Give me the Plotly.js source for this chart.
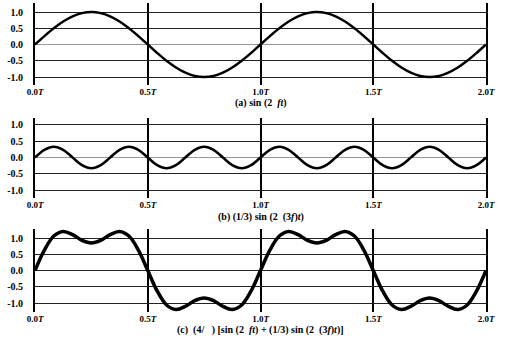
<!DOCTYPE html>
<html>
<head>
<meta charset="utf-8">
<script src="https://cdn.plot.ly/plotly-3.0.1.min.js"></script>
<style>
html,body{margin:0;padding:0;background:#fff;}
#chart{width:522px;height:338px;}
</style>
</head>
<body>
<div id="chart"></div>
<script>
// time in periods (T), sampled every T/24
var tValues = [0,0.0417,0.0833,0.125,0.1667,0.2083,0.25,0.2917,0.3333,0.375,0.4167,0.4583,0.5,0.5417,0.5833,0.625,0.6667,0.7083,0.75,0.7917,0.8333,0.875,0.9167,0.9583,1.0,1.0417,1.0833,1.125,1.1667,1.2083,1.25,1.2917,1.3333,1.375,1.4167,1.4583,1.5,1.5417,1.5833,1.625,1.6667,1.7083,1.75,1.7917,1.8333,1.875,1.9167,1.9583,2.0];

// (a) fundamental
var seriesA = [0,0.259,0.5,0.707,0.866,0.966,1,0.966,0.866,0.707,0.5,0.259,0,-0.259,-0.5,-0.707,-0.866,-0.966,-1,-0.966,-0.866,-0.707,-0.5,-0.259,
               0,0.259,0.5,0.707,0.866,0.966,1,0.966,0.866,0.707,0.5,0.259,0,-0.259,-0.5,-0.707,-0.866,-0.966,-1,-0.966,-0.866,-0.707,-0.5,-0.259,0];

// (b) third harmonic, amplitude 1/3
var seriesB = [0,0.236,0.333,0.236,0,-0.236,-0.333,-0.236,0,0.236,0.333,0.236,0,-0.236,-0.333,-0.236,0,0.236,0.333,0.236,0,-0.236,-0.333,-0.236,
               0,0.236,0.333,0.236,0,-0.236,-0.333,-0.236,0,0.236,0.333,0.236,0,-0.236,-0.333,-0.236,0,0.236,0.333,0.236,0,-0.236,-0.333,-0.236,0];

// (c) sum scaled by 4/pi
var seriesC = [0,0.630,1.061,1.201,1.103,0.929,0.849,0.929,1.103,1.201,1.061,0.630,0,-0.630,-1.061,-1.201,-1.103,-0.929,-0.849,-0.929,-1.103,-1.201,-1.061,-0.630,
               0,0.630,1.061,1.201,1.103,0.929,0.849,0.929,1.103,1.201,1.061,0.630,0,-0.630,-1.061,-1.201,-1.103,-0.929,-0.849,-0.929,-1.103,-1.201,-1.061,-0.630,0];

var xTickVals = [0,0.5,1.0,1.5,2.0];
var xTickText = ['0.0<i>T</i>','0.5<i>T</i>','1.0<i>T</i>','1.5<i>T</i>','2.0<i>T</i>'];
var yTickVals = [1.0,0.5,0.0,-0.5,-1.0];
var yTickText = ['1.0','0.5','0.0','-0.5','-1.0'];
var captions = ['(a) sin (2  <i>ft</i>)','(b) (1/3) sin (2  (3<i>f</i>)<i>t</i>)','(c)  (4/   ) [sin (2  <i>ft</i>) + (1/3) sin (2  (3<i>f</i>)<i>t</i>)]'];

var FONT = "'Liberation Serif', 'Times New Roman', Times, serif";

var traces = [
  {x:tValues, y:seriesA, xaxis:'x', yaxis:'y', type:'scatter', mode:'lines', line:{color:'#000', width:2.5, shape:'spline'}, hoverinfo:'skip'},
  {x:tValues, y:seriesB, xaxis:'x2', yaxis:'y2', type:'scatter', mode:'lines', line:{color:'#000', width:2.5, shape:'spline'}, hoverinfo:'skip'},
  {x:tValues, y:seriesC, xaxis:'x3', yaxis:'y3', type:'scatter', mode:'lines', line:{color:'#000', width:3.5, shape:'spline'}, hoverinfo:'skip'}
];

function xa(anchor){
  return {anchor:anchor, range:[0,2], tickmode:'array', tickvals:xTickVals, ticktext:xTickText,
    showgrid:true, gridcolor:'#000', gridwidth:2, zeroline:false, showline:false, ticks:'',
    tickfont:{family:FONT, size:9, color:'#000', weight:'bold'}, ticklabelstandoff:0, fixedrange:true};
}
function ya(anchor, domain, range, zcol){
  return {anchor:anchor, domain:domain, range:range, tickmode:'array', tickvals:yTickVals, ticktext:yTickText,
    showgrid:true, gridcolor:'#222', gridwidth:1, zeroline:true, zerolinecolor:zcol, zerolinewidth:1,
    showline:true, mirror:true, linecolor:'#000', linewidth:2, ticks:'',
    tickfont:{family:FONT, size:10, color:'#000', weight:'bold'}, ticklabelstandoff:8, fixedrange:true};
}

var layout = {
  width:522, height:338,
  margin:{l:35, r:36, t:3, b:26},
  paper_bgcolor:'#fff', plot_bgcolor:'#fff',
  showlegend:false,
  xaxis: xa('y'),
  xaxis2: xa('y2'),
  xaxis3: xa('y3'),
  yaxis: ya('x', [0.7346,1.0], [-1.246,1.277], '#999'),
  yaxis2: ya('x2', [0.3689,0.6278], [-1.246,1.215], '#999'),
  yaxis3: ya('x3', [0,0.2686], [-1.277,1.277], '#222'),
  annotations: [
    {text:captions[0], xref:'paper', yref:'paper', x:0.5, y:0.7346, yshift:-18, xanchor:'center', yanchor:'middle', showarrow:false, font:{family:FONT, size:10, color:'#000', weight:'bold'}},
    {text:captions[1], xref:'paper', yref:'paper', x:0.5, y:0.3689, yshift:-19, xanchor:'center', yanchor:'middle', showarrow:false, font:{family:FONT, size:10, color:'#000', weight:'bold'}},
    {text:captions[2], xref:'paper', yref:'paper', x:0.5, y:0, yshift:-18, xanchor:'center', yanchor:'middle', showarrow:false, font:{family:FONT, size:10, color:'#000', weight:'bold'}}
  ]
};

Plotly.newPlot('chart', traces, layout, {staticPlot:true, displayModeBar:false});
</script>
</body>
</html>
